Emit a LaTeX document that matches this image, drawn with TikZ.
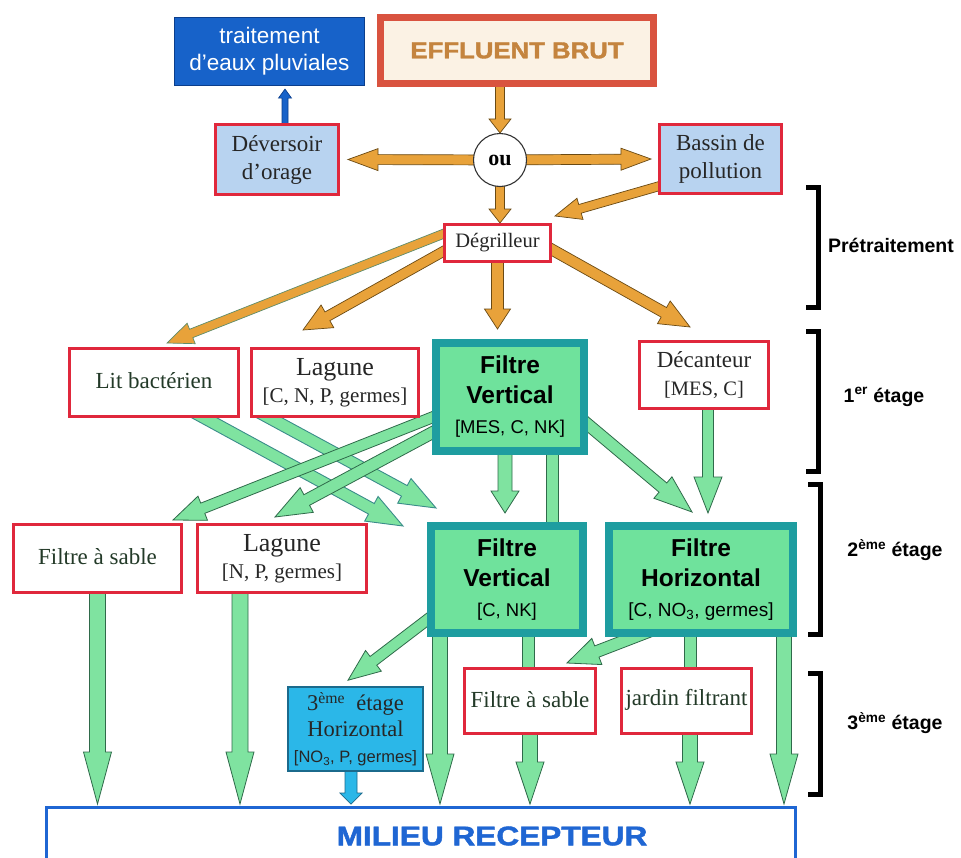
\documentclass[tikz,border=0pt]{standalone}
\usepackage{fontspec}
\setmainfont{Liberation Serif}
\setsansfont{Liberation Sans}
\newfontfamily\heavysans[FakeBold=1.6]{Liberation Sans Bold}
\usepackage{graphicx}
\usetikzlibrary{calc}
\pgfdeclarelayer{bg}
\pgfsetlayers{bg,main}
\definecolor{boxred}{HTML}{E0283C}
\definecolor{effred}{HTML}{D9533F}
\definecolor{efffill}{HTML}{FBF2E4}
\definecolor{efftext}{HTML}{C4843E}
\definecolor{paleblue}{HTML}{B8D3F0}
\definecolor{deepblue}{HTML}{1762C9}
\definecolor{deepbluedark}{HTML}{0B3E8C}
\definecolor{mint}{HTML}{6FE29C}
\definecolor{tealb}{HTML}{1E9DA0}
\definecolor{arrgreen}{HTML}{7FE3A0}
\definecolor{arrgreenedge}{HTML}{2F6A4A}
\definecolor{arrteal}{HTML}{3A8C8A}
\definecolor{orangef}{HTML}{E8A23A}
\definecolor{orangeedge}{HTML}{6A4A14}
\definecolor{orangegreen}{HTML}{5E8C6A}
\definecolor{cyanf}{HTML}{2BB7E8}
\definecolor{cyanedge}{HTML}{1B6A8C}
\definecolor{milblue}{HTML}{1F66D3}
\definecolor{textgreen}{HTML}{233A28}

% block arrow: style, from, to, shaft half width, head half width, head length
\newcommand\blkarrow[6]{%
  \coordinate (bkA) at #2;
  \coordinate (bkB) at #3;
  \coordinate (bkH) at ($(bkB)!#6!(bkA)$);
  \path[#1] ($(bkA)!#4!90:(bkB)$) -- ($(bkH)!#4!90:(bkB)$) -- ($(bkH)!#5!90:(bkB)$) -- (bkB)
     -- ($(bkH)!#5!-90:(bkB)$) -- ($(bkH)!#4!-90:(bkB)$) -- ($(bkA)!#4!-90:(bkB)$) -- cycle;}
% band without head: style, from, to, half width
\newcommand\blkband[4]{%
  \coordinate (bkA) at #2;
  \coordinate (bkB) at #3;
  \path[#1] ($(bkA)!#4!90:(bkB)$) -- ($(bkB)!#4!-90:(bkA)$) -- ($(bkB)!#4!90:(bkA)$) -- ($(bkA)!#4!-90:(bkB)$) -- cycle;}

\begin{document}
\begin{tikzpicture}[x=1pt,y=-1pt,
  redbox/.style={draw=boxred, line width=3pt, fill=white, align=center, inner sep=0pt,
     font=\fontsize{23}{28}\selectfont, text=black!85},
  greenbox/.style={draw=tealb, line width=8pt, fill=mint, align=center, inner sep=0pt,
     font=\sffamily\bfseries\fontsize{24.5}{30}\selectfont},
  stage/.style={font=\sffamily\bfseries\fontsize{19.5}{22}\selectfont, inner sep=0pt},
  bracketline/.style={line width=5pt, line join=miter},
  garrow/.style={fill=arrgreen, draw=arrgreenedge, line width=0.8pt, line join=miter},
  tarrow/.style={fill=arrgreen, draw=arrteal, line width=0.9pt, line join=miter},
  oarrow/.style={fill=orangef, draw=orangeedge, line width=0.7pt, line join=miter},
  barrow/.style={fill=deepblue, draw=deepbluedark, line width=0.7pt, line join=miter},
  carrow/.style={fill=cyanf, draw=cyanedge, line width=0.7pt, line join=miter}]
\useasboundingbox (0,0) rectangle (961,857);
\clip (0,0) rectangle (961,857);

% ---------- nodes ----------
\node[draw=deepbluedark, line width=1.2pt, fill=deepblue, text=white, align=center, inner sep=0pt,
  minimum width=190pt, minimum height=68pt, font=\sffamily\fontsize{22.5}{27}\selectfont]
  (trait) at (269.5,51.5) {traitement\\d'eaux pluviales};
\node[draw=effred, line width=7pt, fill=efffill, text=efftext, inner sep=0pt,
  minimum width=273pt, minimum height=66pt, font=\heavysans\fontsize{23}{26}\selectfont]
  (eff) at (517,50.5) {\scalebox{1.12}[1]{EFFLUENT BRUT}};
\node[redbox, fill=paleblue, minimum width=123pt, minimum height=70pt] (dev) at (277,159.5) {Déversoir\\d'orage};
\node[circle, draw=black!80, line width=1.1pt, fill=white, minimum size=53pt, inner sep=0pt,
  font=\bfseries\fontsize{22}{24}\selectfont] (ou) at (500,160) {ou};
\node[redbox, fill=paleblue, minimum width=122pt, minimum height=69pt] (bassin) at (720.5,159) {Bassin de\\pollution};
\node[redbox, minimum width=106pt, minimum height=37pt, font=\fontsize{20.5}{24}\selectfont] (deg) at (497.5,243) {Dégrilleur};

\node[redbox, minimum width=169pt, minimum height=68pt, text=textgreen] (lit) at (154,382.5) {\raisebox{4pt}{Lit bactérien}};
\node[redbox, minimum width=167pt, minimum height=68pt, font=\fontsize{26}{27}\selectfont] (lag1) at (335,382.5)
  {Lagune\\{\fontsize{21}{24}\selectfont [C, N, P, germes]}};
\node[greenbox, minimum width=148pt, minimum height=108pt] (fv1) at (510,397)
  {Filtre\\Vertical\\{\mdseries\fontsize{18.5}{22}\selectfont [MES, C, NK]}};
\node[redbox, minimum width=129pt, minimum height=67pt, font=\fontsize{23}{28}\selectfont] (dec) at (704,375)
  {Décanteur\\{\fontsize{20.5}{24}\selectfont [MES, C]}};

\node[redbox, minimum width=168pt, minimum height=68pt, text=textgreen] (fas2) at (97.5,558.5) {\raisebox{4pt}{Filtre à sable}};
\node[redbox, minimum width=169pt, minimum height=68pt, font=\fontsize{26}{27}\selectfont] (lag2) at (282,558.5)
  {Lagune\\{\fontsize{21}{24}\selectfont [N, P, germes]}};
\node[greenbox, minimum width=152pt, minimum height=107pt] (fv2) at (507,579.5)
  {Filtre\\Vertical\\{\mdseries\fontsize{18.5}{22}\selectfont [C, NK]}};
\node[greenbox, minimum width=184pt, minimum height=107pt] (fh) at (701,579.5)
  {Filtre\\Horizontal\\{\mdseries\fontsize{19}{22}\selectfont [C, NO\textsubscript{3}, germes]}};

\node[draw=cyanedge, line width=1.5pt, fill=cyanf, minimum width=135pt, minimum height=84pt, align=center,
  inner sep=0pt, font=\fontsize{22.5}{26}\selectfont, text=black!85] (e3h) at (355.5,729)
  {3\textsuperscript{ème}\ \ étage\\Horizontal\\{\sffamily\fontsize{16.5}{20}\selectfont [NO\textsubscript{3}, P, germes]}};
\node[redbox, minimum width=131pt, minimum height=65pt, text=textgreen] (fas3) at (530,701) {\raisebox{4pt}{Filtre à sable}};
\node[redbox, minimum width=130pt, minimum height=65pt, text=textgreen] (jf) at (686.5,701) {\raisebox{8pt}{jardin filtrant}};

\node[draw=milblue, line width=3pt, fill=white, minimum width=749pt, minimum height=57pt, inner sep=0pt,
  text=milblue, font=\heavysans\fontsize{27}{30}\selectfont] (mil) at (421,836)
  {\hspace*{142pt}\scalebox{1.17}[1]{MILIEU RECEPTEUR}};

% ---------- stage labels and brackets ----------
\node[stage] (lpre) at (891,245) {Prétraitement};
\node[stage] (l1) at (884,397) {1\textsuperscript{er} étage};
\node[stage] (l2) at (895,550) {2\textsuperscript{ème} étage};
\node[stage] (l3) at (895,723) {3\textsuperscript{ème} étage};
\draw[bracketline] (806,187) -- (818,187) -- (818,307) -- (806,307);
\draw[bracketline] (806,331) -- (818,331) -- (818,471) -- (806,471);
\draw[bracketline] (808,484) -- (820,484) -- (820,634) -- (808,634);
\draw[bracketline] (808,673) -- (820,673) -- (820,794) -- (808,794);

% ---------- connectors ----------
\begin{pgfonlayer}{bg}
\fill[white] (0,0) rectangle (961,857);
% orange
\blkarrow{oarrow}{($(ou.north |- eff.south)+(0,-5)$)}{(ou.north)}{4.5pt}{11pt}{14pt}
\blkarrow{oarrow}{(ou.center)}{($(dev.east)+(8,0)$)}{5pt}{11pt}{30pt}
\blkarrow{oarrow}{(ou.center)}{($(bassin.west)+(-7,0)$)}{5pt}{11pt}{30pt}
\blkarrow{oarrow}{(ou.center)}{(ou.south |- deg.north)}{4.5pt}{11pt}{14pt}
\blkarrow{oarrow}{($(bassin.south west)+(12,-12)$)}{($(deg.north east)+(3,-7)$)}{4.5pt}{11pt}{26pt}
\blkarrow{oarrow, draw=orangegreen}{($(deg.west)+(10,-13)$)}{($(lit.north)+(13,-4)$)}{4.5pt}{11pt}{26pt}
\blkarrow{oarrow}{($(deg.west)+(10,3)$)}{($(lag1.north)+(-32,-17)$)}{5pt}{13pt}{28pt}
\blkarrow{oarrow}{(deg.center)}{($(deg.south |- fv1.north)+(0,-10)$)}{6pt}{13pt}{20pt}
\blkarrow{oarrow}{($(deg.east)+(-10,1)$)}{($(dec.north)+(-14,-13)$)}{5.5pt}{13pt}{30pt}
% blue
\blkarrow{barrow}{($(dev.north)+(8,4)$)}{($(trait.south)+(15.5,3)$)}{3pt}{6.5pt}{9pt}
% green, 1st to 2nd stage
\blkarrow{tarrow}{($(lit.south)+(36,-8)$)}{($(fv2.north west)+(-24,4)$)}{6pt}{14pt}{36pt}
\blkarrow{tarrow}{($(lag1.south)+(-80,-8)$)}{($(fv2.north west)+(9,-14)$)}{6pt}{14pt}{36pt}
\blkarrow{garrow}{($(fv1.west)+(29,9)$)}{($(fas2.north east)+(-10,-3)$)}{5.5pt}{13pt}{32pt}
\blkarrow{garrow}{($(fv1.west)+(24,23)$)}{($(lag2.north)+(-7,-6)$)}{6pt}{14pt}{36pt}
\blkarrow{garrow}{($(fv1.south)+(-5,-10)$)}{($(fv2.north)+(-2,-9)$)}{7pt}{14pt}{22pt}
\blkband{garrow}{($(fv1.south)+(42,-10)$)}{($(fv2.north)+(45,10)$)}{6pt}
\blkarrow{garrow}{($(fv1.east)+(-15,15)$)}{($(fh.north)+(-9,-10)$)}{6pt}{14pt}{38pt}
\blkarrow{garrow}{($(dec.south)+(4,-10)$)}{($(fh.north)+(7,-9)$)}{5.5pt}{14pt}{36pt}
% green, to 3rd stage and receiving medium
\blkarrow{garrow}{($(fas2.south)+(0,-8)$)}{($(fas2.south |- mil.north)+(0,-2)$)}{8pt}{14pt}{52pt}
\blkarrow{garrow}{($(lag2.south)+(-42,-8)$)}{($(lag2.south |- mil.north)+(-42,-2)$)}{8pt}{14pt}{52pt}
\blkarrow{garrow}{($(fv2.south west)+(13,-10)$)}{($(fv2.south west |- mil.north)+(13,-2)$)}{7.5pt}{14pt}{50pt}
\blkarrow{garrow}{($(fv2.south west)+(13,-27)$)}{($(e3h.north)+(-7.5,-6)$)}{5.5pt}{13pt}{32pt}
\blkband{garrow}{($(fv2.south)+(21,-10)$)}{($(fas3.north)+(-2,10)$)}{6pt}
\blkarrow{garrow}{($(fh.south)+(-51,-6)$)}{($(fas3.north east)+(-30,-4)$)}{6pt}{14pt}{32pt}
\blkband{garrow}{($(fh.south)+(-11,-10)$)}{($(jf.north)+(3.5,10)$)}{6pt}
\blkarrow{garrow}{($(fas3.south)+(0,-8)$)}{($(fas3.south |- mil.north)+(0,-2)$)}{7.5pt}{14pt}{42pt}
\blkarrow{garrow}{($(jf.south)+(3.5,-8)$)}{($(jf.south |- mil.north)+(3.5,-2)$)}{7.5pt}{14pt}{42pt}
\blkarrow{garrow}{($(fh.south east)+(-13,-10)$)}{($(fh.south east |- mil.north)+(-13,-2)$)}{7.5pt}{14pt}{50pt}
% cyan
\blkarrow{carrow}{($(e3h.south)+(-4.5,-5)$)}{($(e3h.south |- mil.north)+(-4.5,-2)$)}{6pt}{11pt}{11pt}
\end{pgfonlayer}
\end{tikzpicture}
\end{document}
